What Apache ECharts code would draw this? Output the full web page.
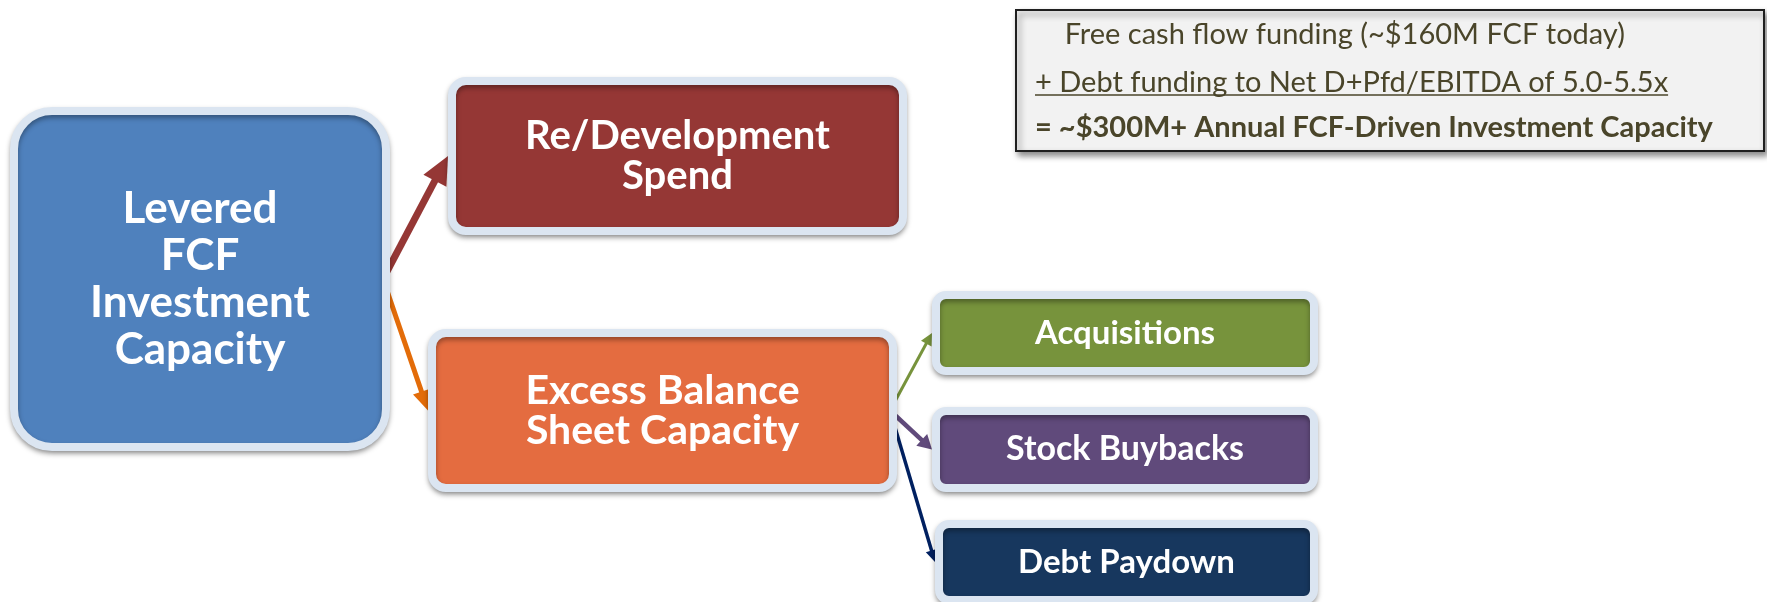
<!DOCTYPE html>
<html>
<head>
<meta charset="utf-8">
<title>Levered FCF Investment Capacity</title>
<script src="https://cdn.jsdelivr.net/npm/echarts@6/dist/echarts.min.js"></script>
<style>
html, body { margin: 0; padding: 0; background: #fff; }
#chart { width: 1767px; height: 602px; }
</style>
</head>
<body>
<div id="chart"></div>
<script>
// boxes of the tree, root first
const nodeLabels = [
  'Levered\nFCF\nInvestment\nCapacity',
  'Re/Development\nSpend',
  'Excess Balance\nSheet Capacity',
  'Acquisitions',
  'Stock Buybacks',
  'Debt Paydown'
]
// arrows: source box -> target box
const linkSource = [0, 0, 2, 2, 2]
const linkTarget = [1, 2, 3, 4, 5]
// the note in the top right corner
const noteLines = [
  '    Free cash flow funding (~$160M FCF today)',
  '+ Debt funding to Net D+Pfd/EBITDA of 5.0-5.5x',
  '= ~$300M+ Annual FCF-Driven Investment Capacity'
]

// layout, page units: [left, top, width, height] of each box outline
const boxLayout = [
  [14, 111, 372, 336],
  [452, 81, 451, 150],
  [432, 333, 461, 155],
  [936, 295, 378, 76],
  [936, 411, 378, 77],
  [939, 524, 375, 76]
]
const boxRadius = [38, 14, 14, 10, 10, 10]
const boxColors = ['#4f81bd', '#953735', '#e46c40', '#77933c', '#604a7b', '#17375e']
const boxFontSize = [44, 40, 41, 33, 34, 33]
const boxLineHeight = [47, 40, 40, 40, 40, 40]

const linkColors = ['#953735', '#e36c09', '#77933c', '#604a7b', '#002060']
const linkWidths = [7, 5, 3, 4.5, 3.5]
const headSizes = [[28, 13], [20, 9], [12, 6], [14, 8], [12, 6]]

const noteFrame = [1016, 10, 748, 141]
const noteX = 1035
const noteRowY = [35, 83, 128]
const noteWeights = ['normal', 'normal', 'bold']
const noteColor = '#4a452a'
const noteFontSize = 29
const fontFamily = 'Lato'

const measureCtx = document.createElement('canvas').getContext('2d')
function textWidth(text, weight, size) {
  measureCtx.font = weight + ' ' + size + 'px ' + fontFamily
  return measureCtx.measureText(text).width
}

function rectFromLayout(api, l) {
  const p0 = api.coord([l[0], l[1]])
  const p1 = api.coord([l[0] + l[2], l[1] + l[3]])
  return { x: p0[0], y: p0[1], width: p1[0] - p0[0], height: p1[1] - p0[1] }
}

function renderBox(params, api) {
  const i = params.dataIndex
  const r = rectFromLayout(api, boxLayout[i])
  return {
    type: 'group',
    children: [
      {
        type: 'rect',
        shape: { x: r.x, y: r.y, width: r.width, height: r.height, r: boxRadius[i] },
        style: {
          fill: boxColors[i],
          stroke: '#dbe5f1',
          lineWidth: 8,
          shadowBlur: 5,
          shadowOffsetY: 3,
          shadowColor: 'rgba(0, 0, 0, 0.35)'
        }
      },
      {
        type: 'text',
        style: {
          text: nodeLabels[i],
          x: r.x + r.width / 2,
          y: r.y + r.height / 2,
          align: 'center',
          verticalAlign: 'middle',
          fill: '#fff',
          fontFamily: fontFamily,
          fontWeight: 'bold',
          fontSize: boxFontSize[i],
          lineHeight: boxLineHeight[i]
        }
      }
    ]
  }
}

function renderLink(params, api) {
  const k = params.dataIndex
  const s = boxLayout[linkSource[k]]
  const t = boxLayout[linkTarget[k]]
  const a = api.coord([s[0] + s[2] - 3, s[1] + s[3] / 2])
  const b = api.coord([t[0] - 4, t[1] + t[3] / 2])
  const dx = b[0] - a[0]
  const dy = b[1] - a[1]
  const len = Math.hypot(dx, dy)
  const ux = dx / len
  const uy = dy / len
  const hl = headSizes[k][0]
  const hw = headSizes[k][1]
  const bx = b[0] - ux * hl
  const by = b[1] - uy * hl
  return {
    type: 'group',
    children: [
      {
        type: 'line',
        shape: { x1: a[0], y1: a[1], x2: bx + ux * 2, y2: by + uy * 2 },
        style: { stroke: linkColors[k], lineWidth: linkWidths[k] }
      },
      {
        type: 'polygon',
        shape: { points: [[b[0], b[1]], [bx - uy * hw, by + ux * hw], [bx + uy * hw, by - ux * hw]] },
        style: { fill: linkColors[k] }
      }
    ]
  }
}

function renderNoteFrame(params, api) {
  const r = rectFromLayout(api, noteFrame)
  return {
    type: 'rect',
    shape: r,
    style: {
      fill: '#f2f2f2',
      stroke: '#1f1f1f',
      lineWidth: 2,
      shadowBlur: 6,
      shadowOffsetX: 3,
      shadowOffsetY: 4,
      shadowColor: 'rgba(0, 0, 0, 0.45)'
    }
  }
}

function renderNoteLine(params, api) {
  const i = params.dataIndex
  const p = api.coord([noteX, noteRowY[i]])
  const children = [{
    type: 'text',
    style: {
      text: noteLines[i],
      x: p[0],
      y: p[1],
      align: 'left',
      verticalAlign: 'middle',
      fill: noteColor,
      fontFamily: fontFamily,
      fontWeight: noteWeights[i],
      fontSize: noteFontSize
    }
  }]
  // the second row is underlined
  if (i === 1) {
    const w = textWidth(noteLines[i], noteWeights[i], noteFontSize)
    const u = api.coord([noteX, noteRowY[i] + 12])
    children.push({
      type: 'line',
      shape: { x1: u[0], y1: u[1], x2: u[0] + w, y2: u[1] },
      style: { stroke: noteColor, lineWidth: 1.5 }
    })
  }
  return { type: 'group', children: children }
}

const chart = echarts.init(document.getElementById('chart'))
chart.setOption({
  animation: false,
  grid: { left: 0, right: 0, top: 0, bottom: 0 },
  xAxis: { type: 'value', min: 0, max: 1767, show: false },
  yAxis: { type: 'value', min: 0, max: 602, inverse: true, show: false },
  series: [
    {
      type: 'custom',
      name: 'links',
      renderItem: renderLink,
      data: linkSource.map((s, k) => [k, 0]),
      z: 1
    },
    {
      type: 'custom',
      name: 'boxes',
      renderItem: renderBox,
      data: nodeLabels.map((n, i) => [i, 0]),
      z: 2
    },
    {
      type: 'custom',
      name: 'noteFrame',
      renderItem: renderNoteFrame,
      data: [[0, 0]],
      z: 3
    },
    {
      type: 'custom',
      name: 'note',
      renderItem: renderNoteLine,
      data: noteLines.map((t, i) => [i, 0]),
      z: 4
    }
  ]
})
window.addEventListener('resize', () => chart.resize())
</script>
</body>
</html>
